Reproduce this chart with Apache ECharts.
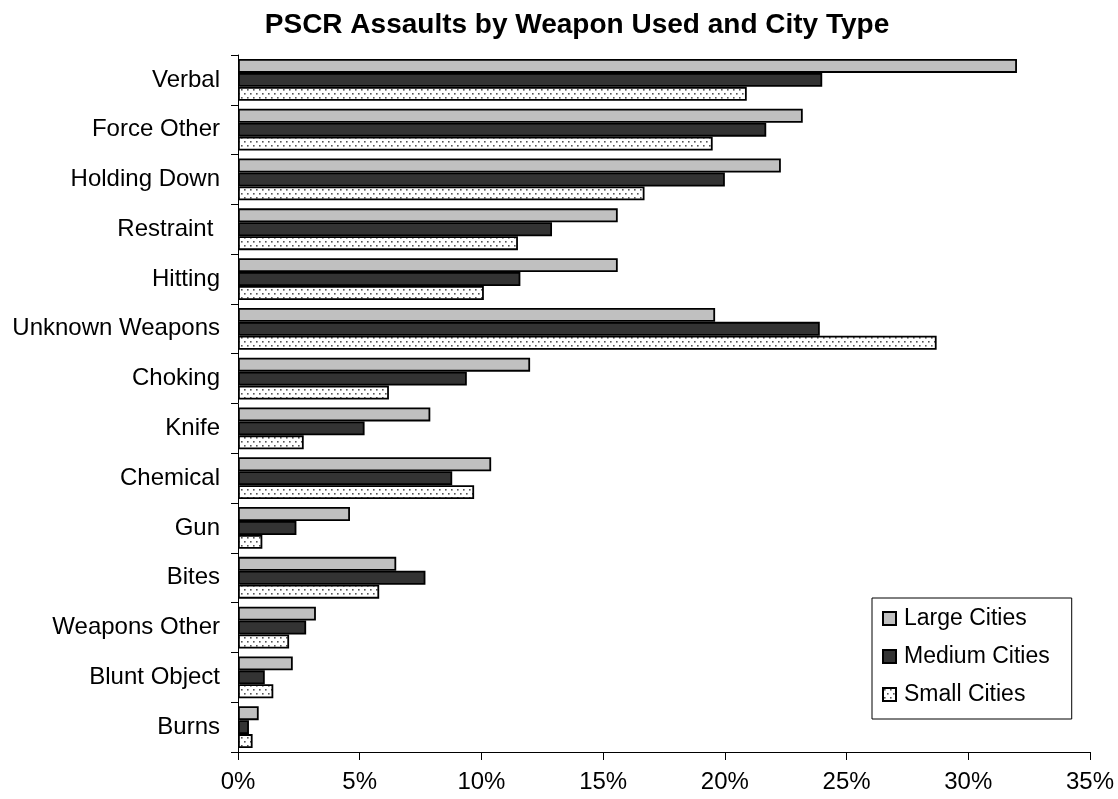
<!DOCTYPE html>
<html>
<head>
<meta charset="utf-8">
<script src="https://cdn.jsdelivr.net/npm/echarts@6/dist/echarts.min.js"></script>
<style>
	html, body { margin: 0; padding: 0; background: #fff; }
	#barChart { width: 1118px; height: 799px; }
</style>
</head>
<body>
<div id="barChart"></div>
<script>
//类目  (从上到下)
var categories = ['Verbal', 'Force Other', 'Holding Down', 'Restraint ', 'Hitting', 'Unknown Weapons', 'Choking',
	'Knife', 'Chemical', 'Gun', 'Bites', 'Weapons Other', 'Blunt Object', 'Burns'];
//各城市类型  百分比
var largeCities = [32.0, 23.2, 22.3, 15.6, 15.6, 19.6, 12.0, 7.9, 10.4, 4.6, 6.5, 3.2, 2.25, 0.85];
var mediumCities = [24.0, 21.7, 20.0, 12.9, 11.6, 23.9, 9.4, 5.2, 8.8, 2.4, 7.7, 2.8, 1.1, 0.45];
var smallCities = [20.9, 19.5, 16.7, 11.5, 10.1, 28.7, 6.2, 2.7, 9.7, 1.0, 5.8, 2.1, 1.45, 0.6];
var xTicks = [0, 5, 10, 15, 20, 25, 30, 35];

var fontName = '"Liberation Sans", Arial, sans-serif';

//点状填充
function dotPattern() {
	var cv = document.createElement('canvas');
	cv.width = 6;
	cv.height = 8;
	var ctx = cv.getContext('2d');
	ctx.fillStyle = '#fff';
	ctx.fillRect(0, 0, 6, 8);
	ctx.fillStyle = '#555';
	ctx.fillRect(1, 1, 1.6, 1.6);
	ctx.fillRect(4, 5, 1.6, 1.6);
	return { image: cv, repeat: 'repeat' };
}

var barChart = echarts.init(document.getElementById('barChart'));

function makeSeries(name, data, fill) {
	return {
		name: name,
		type: 'bar',
		data: data,
		barGap: '0%',
		barCategoryGap: '16%',
		animation: false,
		itemStyle: {
			color: fill,
			borderColor: '#000',
			borderWidth: 1.8
		}
	};
}

var chartOption = {
	backgroundColor: '#fff',
	title: {
		text: 'PSCR Assaults by Weapon Used and City Type',
		left: 572,
		textAlign: 'center',
		top: 6,
		textStyle: {
			fontFamily: fontName,
			fontSize: 28,
			fontWeight: 'bold',
			color: '#000'
		}
	},
	grid: {
		left: 238,
		right: 28,
		top: 55,
		bottom: 47
	},
	legend: {
		orient: 'vertical',
		left: 872,
		top: 598,
		padding: [9, 22, 13, 10],
		itemGap: 15,
		itemWidth: 13,
		itemHeight: 13,
		borderColor: '#000',
		borderWidth: 1,
		borderRadius: 0,
		textStyle: {
			fontFamily: fontName,
			fontSize: 23,
			color: '#000',
			padding: [0, 0, 0, 3]
		},
		data: [
			{ name: 'Large Cities', icon: 'rect' },
			{ name: 'Medium Cities', icon: 'rect' },
			{ name: 'Small Cities', icon: 'rect' }
		]
	},
	xAxis: {
		type: 'value',
		min: xTicks[0],
		max: xTicks[xTicks.length - 1],
		interval: 5,
		splitLine: { show: false },
		axisLine: { show: true, lineStyle: { color: '#000', width: 1 } },
		axisTick: { show: true, length: 8, lineStyle: { color: '#000' } },
		axisLabel: {
			margin: 18,
			fontFamily: fontName,
			fontSize: 24,
			color: '#000',
			formatter: '{value}%'
		}
	},
	yAxis: {
		type: 'category',
		inverse: true,
		data: categories,
		axisLine: { show: true, lineStyle: { color: '#000', width: 1 } },
		axisTick: { show: true, length: 7, lineStyle: { color: '#000' } },
		axisLabel: {
			margin: 18,
			fontFamily: fontName,
			fontSize: 24,
			color: '#000'
		}
	},
	series: [
		makeSeries('Large Cities', largeCities, '#c0c0c0'),
		makeSeries('Medium Cities', mediumCities, '#333333'),
		makeSeries('Small Cities', smallCities, dotPattern())
	]
};

barChart.setOption(chartOption);
</script>
</body>
</html>
